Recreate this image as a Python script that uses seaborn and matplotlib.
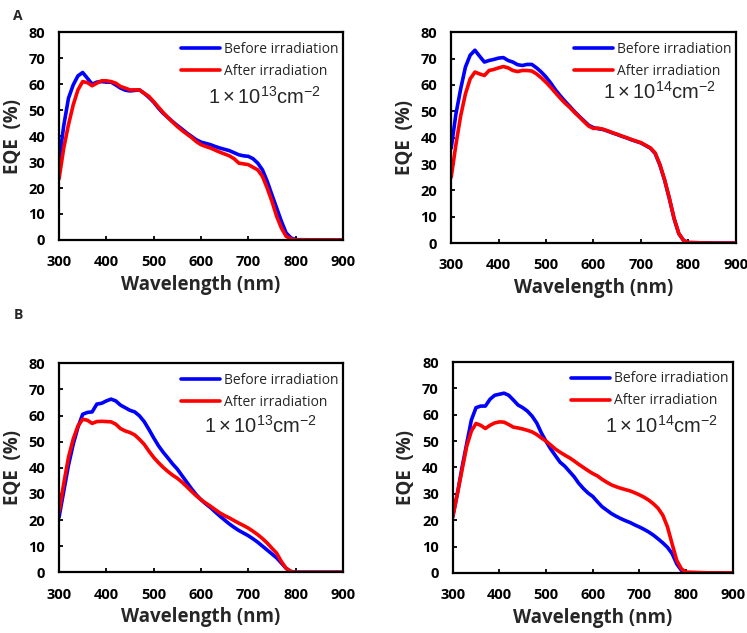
import matplotlib
matplotlib.use("Agg")
import matplotlib.pyplot as plt
import pandas as pd
import seaborn as sns

# wavelength grid (nm)
wavelength = list(range(300, 801, 10)) + [850, 900]

# Panel A, 1e13 cm^-2
a13_before = [30.3, 44, 54.6, 59.7, 63.2, 64.5, 62.3, 60, 60.8, 61, 60.8, 60.8, 59.7, 58.5, 57.7, 57.4,
              57.6, 57.8, 56.5, 54.9, 53.1, 50.8, 48.8, 47.2, 45.6, 44.1, 42.7, 41.2, 39.9, 38.6, 37.7,
              37.2, 36.7, 36, 35.4, 34.9, 34.4, 33.6, 32.8, 32.4, 32.2, 31.3, 29.6, 27, 22.6, 17.4, 12.3,
              7.2, 2.7, 0.8, 0.1, 0, 0]
a13_after = [23.5, 35.4, 44.4, 52, 57.8, 61, 60.6, 59.4, 60.4, 61.3, 61.3, 61, 60.4, 59.1, 58.5, 57.8,
             57.8, 57.8, 56.5, 55.3, 53.3, 51.2, 49.1, 47.2, 45.4, 43.7, 42.2, 40.8, 39.5, 37.9, 36.7,
             36, 35.4, 34.6, 33.8, 33.1, 32.4, 31.3, 29.6, 29.3, 29, 28, 27, 24.5, 20, 14.9, 9.1,
             4.6, 1.4, 0.4, 0, 0, 0]

# Panel A, 1e14 cm^-2
a14_before = [36, 49, 58.5, 66.8, 71.3, 73.2, 70.9, 68.7, 69.3, 69.7, 70.2, 70.4, 69.3, 68.7, 67.7, 67.4,
              67.8, 67.8, 66.5, 64.9, 63, 60.7, 58.1, 55.9, 53.8, 51.9, 49.9, 48.1, 46.4, 44.7, 43.8,
              43.4, 43.1, 42.5, 41.8, 41.2, 40.5, 39.9, 39.2, 38.6, 38, 37, 36, 34, 29.6, 23.8, 16.8,
              9.2, 3.5, 1, 0.2, 0, 0]
a14_after = [25, 37.4, 48.3, 56.6, 62.3, 64.9, 64.2, 63.6, 65.5, 65.9, 66.5, 67, 66.5, 65.5, 65.1, 65.5,
             65.5, 65.3, 64.2, 62.7, 61, 59.1, 57, 55, 53.1, 51.5, 49.6, 47.9, 46.1, 44.4, 43.5,
             43.6, 43.2, 42.6, 41.9, 41.3, 40.6, 40, 39.3, 38.7, 38.1, 37.1, 36.1, 34.2, 29.8, 24, 17,
             9.3, 3.6, 1, 0.2, 0, 0]

# Panel B, 1e13 cm^-2
b13_before = [21, 31, 41, 49, 55.5, 60.5, 61.2, 61.4, 64.4, 64.7, 65.6, 66.3, 65.6, 64, 63, 62,
              61.4, 59.9, 57.7, 54.7, 51.5, 48.5, 46, 43.8, 41.5, 39.5, 37, 34.5, 32, 29.7, 27.8,
              26.2, 24.8, 23.1, 21.5, 20, 18.5, 17.2, 16, 15, 14, 12.8, 11.5, 10, 8.5, 7, 5.5,
              3.5, 1.5, 0.3, 0, 0, 0]
b13_after = [23, 34, 44, 51, 56, 58.6, 58.2, 57, 57.7, 57.8, 57.7, 57.6, 56.7, 55, 54.1, 53.5,
             52.6, 50.9, 49, 46.4, 44, 42, 40.2, 38.6, 37.2, 36, 34.5, 32.8, 31, 29.3, 27.8,
             26.5, 25.3, 24, 22.7, 21.7, 20.8, 19.8, 18.8, 17.9, 16.9, 15.7, 14.4, 12.9, 11.2, 9.2, 7.3,
             4.1, 1.5, 0.3, 0, 0, 0]

# Panel B, 1e14 cm^-2
b14_before = [21.3, 30, 40, 49, 58, 62.7, 63.3, 63.3, 65.9, 67.4, 67.8, 68.2, 67.4, 65.6, 63.7, 62.7,
              61.4, 59.5, 56.9, 53.1, 49.9, 47, 44.5, 42, 40.5, 38.5, 36.5, 34, 32, 30.3, 29,
              27, 25.1, 23.8, 22.5, 21.5, 20.6, 19.8, 19.1, 18.2, 17.4, 16.5, 15.5, 14.3, 12.9, 11.4, 9.7,
              7.3, 3.4, 0.9, 0, 0, 0]
b14_after = [21, 30, 39, 48, 53.8, 56.7, 56, 54.8, 56, 56.9, 57.3, 57.2, 56.3, 55.3, 55, 54.6,
             54.1, 53.5, 52.5, 51.2, 50, 48.5, 47, 45.8, 44.7, 43.7, 42.5, 41.2, 40, 38.8, 37.7,
             36.8, 35.5, 34.4, 33.4, 32.7, 32.1, 31.6, 31.1, 30.4, 29.6, 28.7, 27.6, 26.2, 24.5, 21.9, 17.5,
             11, 4.7, 1.5, 0.3, 0, 0]

series_names = ["Before irradiation", "After irradiation"]
fluence_labels = [r"$1\times10^{13}\mathrm{cm}^{-2}$", r"$1\times10^{14}\mathrm{cm}^{-2}$"]
x_ticks = [300, 400, 500, 600, 700, 800, 900]
y_ticks = [0, 10, 20, 30, 40, 50, 60, 70, 80]

sns.set_style("ticks")
plt.rcParams["font.family"] = ["Open Sans", "DejaVu Sans"]
plt.rcParams["mathtext.fontset"] = "custom"
plt.rcParams["mathtext.rm"] = "Liberation Sans"
plt.rcParams["mathtext.it"] = "Liberation Sans:italic"

fig = plt.figure(figsize=(7.47, 6.33), dpi=100)

# (data, fluence label, axes rect, annotation pos)
panels = [
    (a13_before, a13_after, fluence_labels[0], [0.079, 0.621, 0.380, 0.328], (0.525, 0.685)),
    (a14_before, a14_after, fluence_labels[1], [0.604, 0.616, 0.381, 0.333], (0.533, 0.715)),
    (b13_before, b13_after, fluence_labels[0], [0.079, 0.096, 0.380, 0.330], (0.510, 0.695)),
    (b14_before, b14_after, fluence_labels[1], [0.606, 0.095, 0.375, 0.333], (0.543, 0.692)),
]

for before, after, flabel, rect, tpos in panels:
    ax = fig.add_axes(rect)
    df = pd.DataFrame({
        "Wavelength": wavelength + wavelength,
        "EQE": before + after,
        "Condition": [series_names[0]] * len(wavelength) + [series_names[1]] * len(wavelength),
    })
    sns.lineplot(data=df, x="Wavelength", y="EQE", hue="Condition",
                 palette={series_names[0]: "#0000ff", series_names[1]: "#ff0000"},
                 linewidth=2.6, ax=ax)
    ax.set_xlim(300, 900)
    ax.set_ylim(0, 80)
    ax.set_xticks(x_ticks)
    ax.set_yticks(y_ticks)
    for lbl in ax.get_xticklabels() + ax.get_yticklabels():
        lbl.set_fontweight("bold")
    ax.tick_params(direction="in", length=3, width=1.3, labelsize=10.5, colors="black")
    ax.tick_params(axis="y", pad=10)
    ax.tick_params(axis="x", pad=11)
    for sp in ax.spines.values():
        sp.set_linewidth(1.6)
        sp.set_color("black")
    ax.set_xlabel("Wavelength (nm)", fontsize=13.5, fontweight="bold", labelpad=4)
    ax.set_ylabel("EQE  (%)", fontsize=13.5, fontweight="bold", labelpad=4)
    ax.legend(loc="upper right", bbox_to_anchor=(1.015, 0.995), frameon=False, fontsize=10,
              handlelength=2.8, handletextpad=0.3, labelspacing=0.5, borderaxespad=0.2)
    ax.text(tpos[0], tpos[1], flabel, transform=ax.transAxes, fontsize=14.5, va="center")

fig.text(0.018, 0.985, "A", fontsize=10, fontweight="bold", va="top")
fig.text(0.018, 0.503, "B", fontsize=10, fontweight="bold", va="center")

fig.savefig("out.png", dpi=100)
